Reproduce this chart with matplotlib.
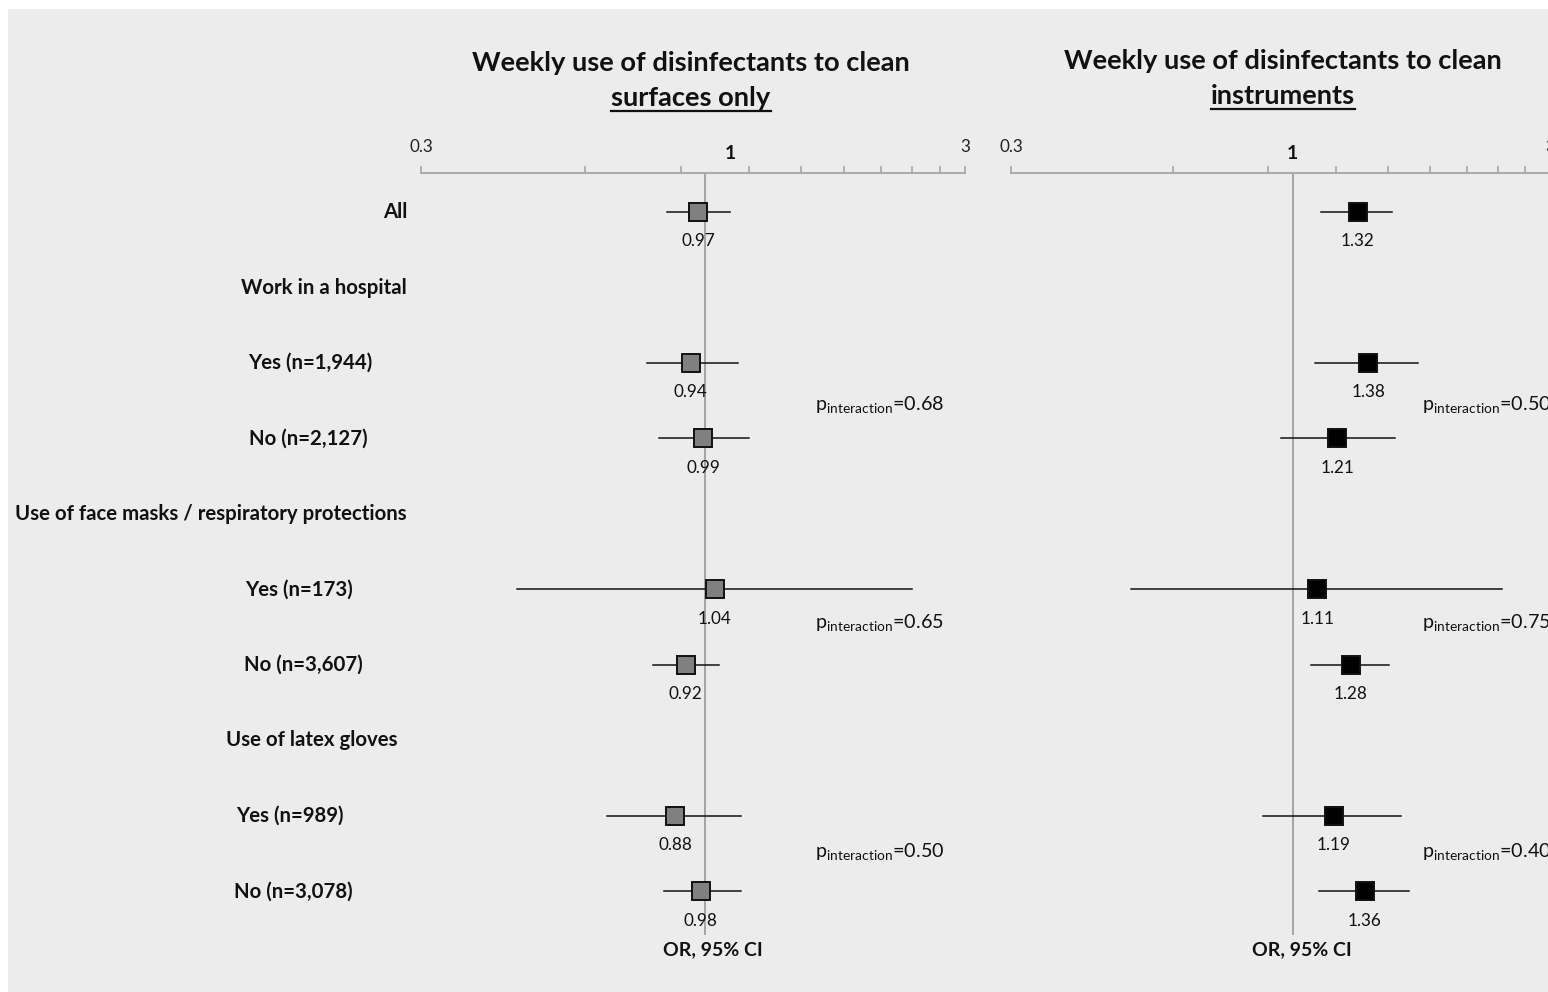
import matplotlib
matplotlib.use("Agg")
import matplotlib.pyplot as plt
from matplotlib.patches import Rectangle
from matplotlib.lines import Line2D

plt.rcParams['font.family'] = ['Lato', 'DejaVu Sans']

# ---------------- data ----------------
row_labels = ["All", "Work in a hospital", "Yes (n=1,944)", "No (n=2,127)",
              "Use of face masks / respiratory protections", "Yes (n=173)", "No (n=3,607)",
              "Use of latex gloves", "Yes (n=989)", "No (n=3,078)"]
data_rows = [0, 2, 3, 5, 6, 8, 9]

surf_or = [0.97, 0.94, 0.99, 1.04, 0.92, 0.88, 0.98]
surf_lo = [0.85, 0.78, 0.82, 0.45, 0.80, 0.66, 0.84]
surf_hi = [1.11, 1.15, 1.20, 2.40, 1.06, 1.16, 1.16]

inst_or = [1.32, 1.38, 1.21, 1.11, 1.28, 1.19, 1.36]
inst_lo = [1.13, 1.10, 0.95, 0.50, 1.08, 0.88, 1.12]
inst_hi = [1.53, 1.71, 1.55, 2.44, 1.51, 1.59, 1.64]

p_surf = ["0.68", "0.65", "0.50"]
p_inst = ["0.50", "0.75", "0.40"]

tick_vals = [0.3, 0.6, 0.9, 1.2, 1.5, 1.8, 2.1, 2.4, 2.7, 3.0]
tick_labels = ["0.3", "", "", "", "", "", "", "", "", "3"]

titles = [("Weekly use of disinfectants to clean", "surfaces only"),
          ("Weekly use of disinfectants to clean", "instruments")]

# ---------------- layout ----------------
W, H = 1548, 992
fig = plt.figure(figsize=(W / 100, H / 100), dpi=100)
fig.patch.set_facecolor('white')
bg = '#ececec'
fig.patches.append(Rectangle((8 / W, 0), (W - 8) / W, (H - 7) / H - 0.002,
                             transform=fig.transFigure, facecolor=bg, edgecolor='none', zorder=-10))

row0_px = 212.0
row_step = 75.5
top_px = 173.0
bot_px = 935.0
ylim_top = (top_px - row0_px) / row_step
ylim_bot = (bot_px - row0_px) / row_step


def px_to_fig(x, y):
    return x / W, 1 - y / H


def make_axes(x0, x1, one_x):
    l, t = px_to_fig(x0, top_px)
    r, b = px_to_fig(x1, bot_px)
    ax = fig.add_axes([l, b, r - l, t - b])
    ax.set_facecolor('none')
    ax.set_xscale('log')
    ax.set_xlim(0.3, 3.0)
    ax.set_ylim(ylim_bot, ylim_top)
    for s in ['left', 'right', 'bottom']:
        ax.spines[s].set_visible(False)
    ax.spines['top'].set_color('#a6a6a6')
    ax.spines['top'].set_linewidth(1.3)
    ax.xaxis.set_ticks_position('top')
    ax.xaxis.set_minor_locator(matplotlib.ticker.NullLocator())
    ax.set_xticks(tick_vals)
    ax.set_xticklabels(tick_labels)
    ax.tick_params(axis='x', direction='out', length=5, width=1.2, color='#a6a6a6',
                   labelsize=12.3, pad=8, labelcolor='#222222')
    ax.set_yticks([])
    ax.axvline(1.0, color='#909090', lw=1.1, zorder=1)
    ax.text(one_x, ylim_top - 0.26, "1", ha='center', va='center', fontsize=14,
            fontweight='bold', color='#111111')
    return ax


axL = make_axes(421, 965, 1.11)
axR = make_axes(1011, 1550, 1.0)

p_x_px = [815, 1422]
p_y_px = [405, 623, 852]
or_x = [1.033, 1.04]

for k, (ax, ors, los, his, fc, ps) in enumerate(
        [(axL, surf_or, surf_lo, surf_hi, '#808080', p_surf),
         (axR, inst_or, inst_lo, inst_hi, '#000000', p_inst)]):
    for r, o, lo, hi in zip(data_rows, ors, los, his):
        ax.plot([lo, hi], [r, r], color='#111111', lw=1.1, zorder=2)
        ax.plot([o], [r], marker='s', markersize=13.5, markerfacecolor=fc,
                markeredgecolor='#111111', markeredgewidth=1.4, zorder=3, clip_on=False)
        ax.text(o, r + 0.39, f"{o:.2f}", ha='center', va='center', fontsize=12.3,
                color='#111111', zorder=4)
    for py, pv in zip(p_y_px, ps):
        fx, fy = px_to_fig(p_x_px[k], py)
        fig.text(fx, fy, r"p$_{\mathregular{interaction}}$=" + pv, ha='left', va='center',
                 fontsize=14.2, color='#111111')
    ax.text(or_x[k], ylim_bot + 0.2, "OR, 95% CI", ha='center', va='center', fontsize=14,
            fontweight='bold', color='#111111')

# row labels (centers in px)
label_cx = [395.5, 324, 310, 308.5, 210.5, 299, 303, 312, 289.5, 293]
for i, (lab, cx) in enumerate(zip(row_labels, label_cx)):
    y = row0_px + i * row_step
    fx, fy = px_to_fig(cx, y)
    fig.text(fx, fy, lab, ha='center', va='center', fontsize=14.7, fontweight='bold',
             color='#111111')

# titles with underlined second line
title_cx = [691, 1283]
title_y1 = [63, 61]
title_y2 = [98, 96]
fig.canvas.draw()
renderer = fig.canvas.get_renderer()
for (l1, l2), cx, y1, y2 in zip(titles, title_cx, title_y1, title_y2):
    fx, fy = px_to_fig(cx, y1)
    fig.text(fx, fy, l1, ha='center', va='center', fontsize=19.6, fontweight='bold', color='#111111')
    fx, fy = px_to_fig(cx, y2)
    t2 = fig.text(fx, fy, l2, ha='center', va='center', fontsize=19.6, fontweight='bold', color='#111111')
    bb = t2.get_window_extent(renderer=renderer)
    uy = (H - (y2 + 13)) / H
    fig.lines.append(Line2D([bb.x0 / W, bb.x1 / W], [uy, uy], transform=fig.transFigure,
                            color='#111111', lw=1.6))

fig.savefig("out.png", dpi=100, facecolor='white')
